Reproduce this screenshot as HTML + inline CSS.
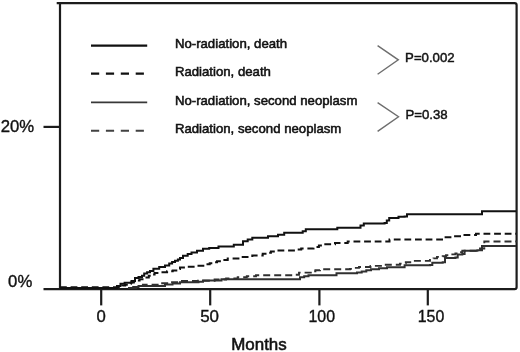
<!DOCTYPE html>
<html><head><meta charset="utf-8"><title>Cumulative incidence</title>
<style>
html,body{margin:0;padding:0;background:#fff;}
body{width:520px;height:352px;overflow:hidden;}
svg{display:block;filter:blur(0.4px);}
text{font-family:"Liberation Sans",Arial,Helvetica,sans-serif;fill:#111;stroke:#111;stroke-width:0.35px;paint-order:stroke;}
.ax{font-size:15.7px;stroke-width:0.55px;}
.lg{font-size:13.2px;stroke-width:0.55px;}
</style></head><body>
<svg width="520" height="352" viewBox="0 0 520 352">
<rect x="0" y="0" width="520" height="352" fill="#fff"/>
<!-- frame -->
<g fill="none" stroke="#1c1c1c" stroke-width="2.2" stroke-linecap="butt">
<path d="M56.7,3.1 H514.6 Q516.6,3.1 516.6,5.1 V287.2 Q516.6,289.1 514.6,289.1 H43.5"/>
<path d="M60,3.1 V289.1"/>
<path d="M43.5,126.9 H60"/>
<path d="M101.2,289.1 V305.4"/>
<path d="M210.2,289.1 V305.4"/>
<path d="M319.4,289.1 V305.4"/>
<path d="M427.8,289.1 V305.4"/>
</g>
<!-- axis labels -->
<g class="ax">
<text transform="translate(0.7,131.5) scale(1.065,1)">20%</text>
<text transform="translate(8.1,287.2) scale(1.065,1)">0%</text>
<text transform="translate(101.2,321.8) scale(1.065,1)" text-anchor="middle">0</text>
<text transform="translate(209.6,321.8) scale(1.08,1)" text-anchor="middle">50</text>
<text transform="translate(321.7,321.8) scale(1.014,1)" text-anchor="middle">100</text>
<text transform="translate(431.0,321.8) scale(1.014,1)" text-anchor="middle">150</text>
</g>
<text transform="translate(259.0,349.6) scale(1.045,1)" text-anchor="middle" style="font-size:16.2px;stroke-width:0.55px">Months</text>
<!-- legend -->
<g fill="none" stroke-linecap="butt">
<path d="M91,45.7 H147.2" stroke="#111" stroke-width="2.2"/>
<path d="M91,73.7 H147.2" stroke="#111" stroke-width="2.2" stroke-dasharray="8.2,6.7"/>
<path d="M91,102.4 H147.2" stroke="#383838" stroke-width="1.7"/>
<path d="M91,130.7 H147.2" stroke="#424242" stroke-width="1.9" stroke-dasharray="8.2,6.7"/>
<path d="M377.6,45.7 L398.3,59.8 L377.6,74.3" stroke="#6e6e6e" stroke-width="1.4"/>
<path d="M377.6,102.7 L398.5,116.7 L377.6,131.4" stroke="#6e6e6e" stroke-width="1.4"/>
</g>
<text class="lg" x="174.9" y="47.8">No-radiation, death</text>
<text class="lg" x="174.9" y="76.2">Radiation, death</text>
<text class="lg" x="174.9" y="104.6">No-radiation, second neoplasm</text>
<text class="lg" x="174.9" y="133.2">Radiation, second neoplasm</text>
<text class="lg" x="405.1" y="62.4" style="stroke-width:0.45px">P=0.002</text>
<text class="lg" x="405.4" y="118.8" style="stroke-width:0.45px">P=0.38</text>
<!-- curves -->
<g fill="none" stroke-linejoin="miter">
<polyline points="128.0,288.0 133.2,288.0 133.2,287.1 138.5,287.1 138.5,286.1 165.0,286.1 165.0,284.4 172.5,284.4 172.5,283.4 180.0,283.4 180.0,282.3 198.5,282.3 198.5,281.8 203.0,281.8 203.0,280.5 217.0,280.5 221.5,280.5 221.5,279.3 295.0,279.3 300.0,279.3 300.0,277.2 304.2,277.2 304.2,276.2 308.5,276.2 308.5,275.3 334.0,275.3 336.5,275.3 336.5,273.2 357.0,273.2 357.0,272.4 361.7,272.4 361.7,271.4 366.3,271.4 366.3,270.3 371.0,270.3 371.0,269.3 379.0,269.3 379.0,268.2 387.0,268.2 387.0,267.2 400.0,267.2 404.6,267.2 404.6,265.3 430.0,265.3 430.0,265.0 432.3,265.0 432.3,262.7 442.7,262.7 442.7,262.2 445.0,262.2 445.0,258.1 455.4,258.1 455.4,257.6 457.7,257.6 457.7,254.6 462.3,254.6 462.3,253.9 464.6,253.9 464.6,250.7 477.4,250.7 477.4,250.2 482.0,250.2 482.0,246.1 516.0,246.1" stroke="#303030" stroke-width="2"/>
<polyline points="133.0,288.0 136.3,288.0 136.3,286.9 139.7,286.9 139.7,285.7 143.0,285.7 143.0,284.6 160.0,284.6 160.0,283.2 170.0,283.2 170.0,282.1 180.0,282.1 180.0,281.0 198.0,281.0 198.0,280.8 214.6,280.8 214.6,279.5 226.1,279.5 226.1,278.4 237.7,278.4 237.7,277.2 246.8,277.2 246.8,276.2 256.0,276.2 256.0,275.2 294.6,275.2 294.6,274.8 299.0,274.8 299.0,272.6 310.8,272.6 310.8,271.2 315.4,271.2 315.4,270.2 320.0,270.2 320.0,269.2 350.0,269.2 350.0,268.9 354.5,268.9 354.5,267.9 359.0,267.9 359.0,267.0 370.5,267.0 370.5,265.9 382.0,265.9 382.0,264.8 400.0,264.8 400.0,263.6 405.8,263.6 405.8,262.2 411.5,262.2 411.5,260.9 430.0,260.9 430.0,259.9 433.5,259.9 433.5,258.4 437.0,258.4 437.0,256.9 442.7,256.9 442.7,256.2 446.0,256.2 446.0,255.3 450.7,255.3 450.7,254.4 455.4,254.4 455.4,253.5 458.9,253.5 458.9,252.1 462.3,252.1 462.3,250.7 477.4,250.7 477.4,249.3 480.0,249.3 480.0,248.5 484.3,248.5 484.3,241.5 516.0,241.5 516.0,240.8" stroke="#303030" stroke-width="1.9" stroke-dasharray="7,4"/>
<polyline points="60.0,287.3 119.0,287.3 122.3,287.3 122.3,285.6 125.2,285.6 125.2,284.7 128.0,284.7 128.0,283.8 130.9,283.8 130.9,282.6 133.8,282.6 133.8,281.5 136.7,281.5 136.7,280.4 139.6,280.4 139.6,279.2 146.5,279.2 146.5,277.5 148.8,277.5 148.8,275.8 151.7,275.8 151.7,274.4 154.6,274.4 154.6,272.9 161.5,272.9 161.5,272.2 167.1,272.2 167.1,271.3 172.7,271.3 172.7,270.4 176.3,270.4 176.3,269.0 180.0,269.0 180.0,267.6 187.7,267.6 187.7,266.7 195.4,266.7 195.4,265.8 206.0,265.8 206.0,264.2 209.7,264.2 209.7,263.2 213.3,263.2 213.3,262.2 217.0,262.2 217.0,261.2 222.3,261.2 222.3,259.9 227.7,259.9 227.7,258.5 241.5,258.5 241.5,257.0 252.3,257.0 252.3,255.5 262.7,255.5 262.7,253.8 266.8,253.8 266.8,252.7 270.9,252.7 270.9,251.5 275.0,251.5 275.0,250.4 288.8,250.4 295.0,250.4 295.0,249.4 301.2,249.4 301.2,248.5 313.5,248.5 313.5,247.0 318.9,247.0 318.9,245.6 324.2,245.6 324.2,244.2 335.0,244.2 335.0,243.0 347.7,243.0 347.7,241.6 385.5,241.6 389.5,241.6 389.5,239.5 439.2,239.5 443.8,239.5 443.8,237.3 451.9,237.3 451.9,236.2 460.0,236.2 460.0,235.0 476.0,235.0 476.0,233.8 516.0,233.8" stroke="#111" stroke-width="2" stroke-dasharray="6.8,3.8"/>
<polyline points="60.0,288.0 114.5,288.0 117.0,288.0 117.0,286.1 120.5,286.1 120.5,283.8 124.6,283.8 124.6,282.7 131.5,282.7 131.5,281.0 135.0,281.0 135.0,278.0 138.5,278.0 138.5,276.9 142.0,276.9 142.0,275.8 144.2,275.8 144.2,273.5 147.1,273.5 147.1,272.3 150.0,272.3 150.0,271.1 153.4,271.1 153.4,268.8 159.2,268.8 159.2,267.1 165.0,267.1 165.0,265.4 169.2,265.4 169.2,263.4 172.1,263.4 172.1,262.1 175.0,262.1 175.0,260.7 177.9,260.7 177.9,259.4 180.0,259.4 180.0,258.1 183.0,258.1 183.0,258.1 183.0,255.8 187.7,255.8 187.7,255.8 187.7,253.9 191.5,253.9 191.5,253.9 191.5,252.4 197.0,252.4 197.0,252.4 197.0,250.8 203.0,250.8 203.0,250.8 203.0,248.8 209.2,248.8 209.2,248.8 209.2,248.1 218.5,248.1 218.5,248.1 218.5,246.5 233.8,246.5 233.8,246.5 233.8,244.7 243.0,244.7 243.0,244.7 243.0,241.2 247.7,241.2 247.7,241.2 247.7,239.6 252.3,239.6 252.3,239.6 252.3,237.8 268.0,237.8 268.0,237.8 268.0,236.2 278.0,236.2 278.0,236.2 278.0,234.7 284.2,234.7 284.2,234.7 284.2,232.7 302.7,232.7 302.7,232.7 302.7,231.2 305.8,231.2 305.8,231.2 305.8,229.2 335.0,229.2 335.0,229.2 337.3,229.2 337.3,229.2 337.3,227.7 358.0,227.7 358.0,227.7 360.5,227.7 360.5,227.7 360.5,225.5 363.8,225.5 363.8,225.5 363.8,223.4 384.6,223.4 384.6,223.4 384.6,223.1 386.8,223.1 386.8,223.1 386.8,220.5 389.2,220.5 389.2,220.5 389.2,218.0 398.5,218.0 398.5,218.0 398.5,216.8 404.6,216.8 404.6,216.8 404.6,216.5 407.0,216.5 407.0,216.5 407.0,214.2 479.6,214.2 479.6,214.2 482.0,214.2 482.0,214.2 482.0,211.2 516.0,211.2 516.0,211.2" stroke="#111" stroke-width="2"/>
</g>
</svg>
</body></html>
